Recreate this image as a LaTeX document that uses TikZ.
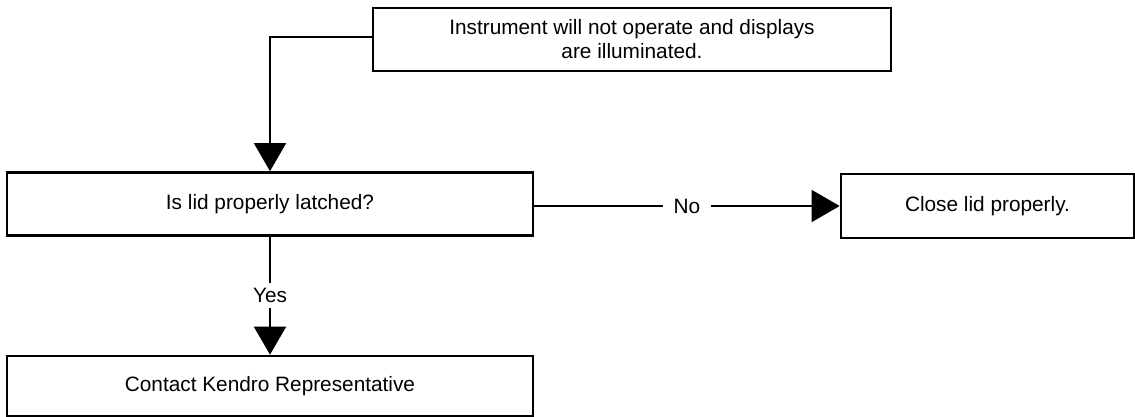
\documentclass[tikz,border=0pt]{standalone}
\usepackage{fontspec}
\setmainfont{Liberation Sans}
\usetikzlibrary{arrows.meta}

\tikzset{
  flowbox/.style={draw, line width=2pt, inner sep=0pt, align=center,
    font=\fontsize{15.6}{18}\selectfont},
  flowline/.style={line width=1.2pt, -{Triangle[length=21pt, width=24pt]}},
  flowlabel/.style={fill=white, inner xsep=8pt, inner ysep=4pt, font=\fontsize{15.6}{18}\selectfont}
}

\begin{document}
\begin{tikzpicture}[x=0.75pt,y=0.75pt,yscale=-1,xscale=1]
\useasboundingbox (0,0) rectangle (1135,417);

% Text Node
\node[flowbox, minimum width=518*0.75pt, minimum height=63*0.75pt] (fault) at (632,39.5)
  {Instrument will not operate and displays\\ are illuminated.};
% Text Node
\node[flowbox, minimum width=526*0.75pt, minimum height=63*0.75pt] (latched) at (270,204)
  {Is lid properly latched?};
% Text Node
\node[flowbox, minimum width=293*0.75pt, minimum height=64*0.75pt] (closelid) at (987.5,206)
  {Close lid properly.};
% Text Node
\node[flowbox, minimum width=526*0.75pt, minimum height=60*0.75pt] (contact) at (270,386)
  {Contact Kendro Representative};

% Connection
\draw[flowline] ([yshift=-2pt]fault.west) -| (latched.north);
% Connection
\draw[flowline] (latched.east |- closelid.west) -- node[flowlabel] {No} (closelid.west);
% Connection
\draw[flowline] (latched.south) -- node[flowlabel] {Yes} (contact.north);

\end{tikzpicture}
\end{document}
